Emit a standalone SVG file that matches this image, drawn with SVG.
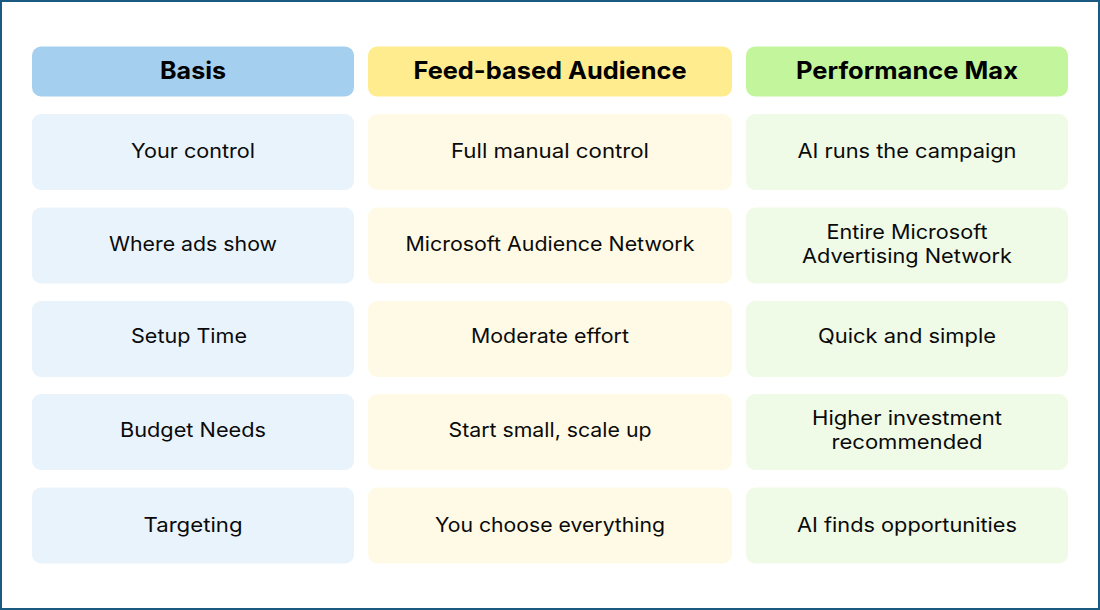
<svg xmlns="http://www.w3.org/2000/svg" width="1100" height="610" viewBox="0 0 1100 610">
<style>
text{font-family:Inter,"Noto Sans",sans-serif;fill:#0a0a0a;text-anchor:middle}
.h{font-size:24px;font-weight:700;fill:#000}
.c{font-size:20px;font-weight:400}
.a{fill:#a5cfee}.b{fill:#ffec8f}.g{fill:#c3f59d}
.a2{fill:#e9f3fb}.b2{fill:#fffae6}.g2{fill:#f0fbe7}
</style>
<rect x="1" y="1" width="1098" height="608" fill="#fff" stroke="#1b5a80" stroke-width="2"/>
<g id="head-basis"><rect class="a" x="32" y="46.500" width="322" height="50" rx="9"/><text class="h" x="193" y="78.500" textLength="66" lengthAdjust="spacingAndGlyphs">Basis</text></g>
<g id="head-feed"><rect class="b" x="368" y="46.500" width="364" height="50" rx="9"/><text class="h" x="550" y="78.500" textLength="273" lengthAdjust="spacingAndGlyphs">Feed-based Audience</text></g>
<g id="head-pmax"><rect class="g" x="746" y="46.500" width="322" height="50" rx="9"/><text class="h" x="907" y="78.500" textLength="222" lengthAdjust="spacingAndGlyphs">Performance Max</text></g>

<g id="r1-basis"><rect class="a2" x="32" y="114" width="322" height="76" rx="9"/><text class="c" x="193" y="157.500" textLength="124" lengthAdjust="spacingAndGlyphs">Your control</text></g>
<g id="r1-feed"><rect class="b2" x="368" y="114" width="364" height="76" rx="9"/><text class="c" x="550" y="157.500" textLength="198" lengthAdjust="spacingAndGlyphs">Full manual control</text></g>
<g id="r1-pmax"><rect class="g2" x="746" y="114" width="322" height="76" rx="9"/><text class="c" x="907" y="157.500" textLength="219" lengthAdjust="spacingAndGlyphs">AI runs the campaign</text></g>

<g id="r2-basis"><rect class="a2" x="32" y="207.500" width="322" height="76" rx="9"/><text class="c" x="193" y="250.500" textLength="168" lengthAdjust="spacingAndGlyphs">Where ads show</text></g>
<g id="r2-feed"><rect class="b2" x="368" y="207.500" width="364" height="76" rx="9"/><text class="c" x="550" y="250.500" textLength="289" lengthAdjust="spacingAndGlyphs">Microsoft Audience Network</text></g>
<g id="r2-pmax"><rect class="g2" x="746" y="207.500" width="322" height="76" rx="9"/><text class="c" x="907" y="238.500" textLength="161" lengthAdjust="spacingAndGlyphs">Entire Microsoft</text><text class="c" x="907" y="262.500" textLength="210" lengthAdjust="spacingAndGlyphs">Advertising Network</text></g>

<g id="r3-basis"><rect class="a2" x="32" y="301" width="322" height="76" rx="9"/><text class="c" x="189" y="343" textLength="116" lengthAdjust="spacingAndGlyphs">Setup Time</text></g>
<g id="r3-feed"><rect class="b2" x="368" y="301" width="364" height="76" rx="9"/><text class="c" x="550" y="343" textLength="158" lengthAdjust="spacingAndGlyphs">Moderate effort</text></g>
<g id="r3-pmax"><rect class="g2" x="746" y="301" width="322" height="76" rx="9"/><text class="c" x="907" y="343" textLength="178" lengthAdjust="spacingAndGlyphs">Quick and simple</text></g>

<g id="r4-basis"><rect class="a2" x="32" y="394" width="322" height="76" rx="9"/><text class="c" x="193" y="436.500" textLength="146" lengthAdjust="spacingAndGlyphs">Budget Needs</text></g>
<g id="r4-feed"><rect class="b2" x="368" y="394" width="364" height="76" rx="9"/><text class="c" x="550" y="436.500" textLength="203" lengthAdjust="spacingAndGlyphs">Start small, scale up</text></g>
<g id="r4-pmax"><rect class="g2" x="746" y="394" width="322" height="76" rx="9"/><text class="c" x="907" y="424.500" textLength="190" lengthAdjust="spacingAndGlyphs">Higher investment</text><text class="c" x="907" y="448.500" textLength="151" lengthAdjust="spacingAndGlyphs">recommended</text></g>

<g id="r5-basis"><rect class="a2" x="32" y="487.500" width="322" height="76" rx="9"/><text class="c" x="193" y="531.500" textLength="99" lengthAdjust="spacingAndGlyphs">Targeting</text></g>
<g id="r5-feed"><rect class="b2" x="368" y="487.500" width="364" height="76" rx="9"/><text class="c" x="550" y="531.500" textLength="230" lengthAdjust="spacingAndGlyphs">You choose everything</text></g>
<g id="r5-pmax"><rect class="g2" x="746" y="487.500" width="322" height="76" rx="9"/><text class="c" x="907" y="531.500" textLength="220" lengthAdjust="spacingAndGlyphs">AI finds opportunities</text></g>
</svg>
